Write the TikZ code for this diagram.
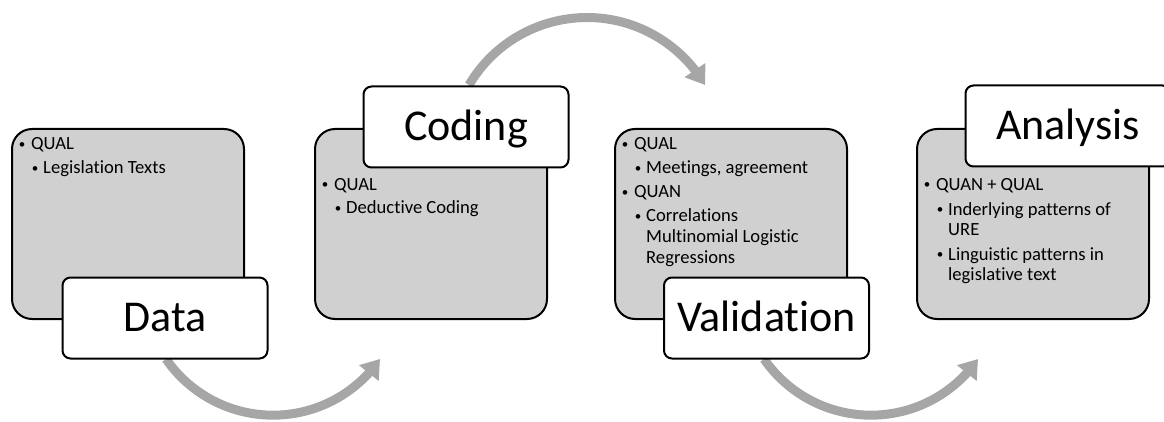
\documentclass[tikz,border=0pt]{standalone}
\usepackage{fontspec}
\setmainfont{Carlito}[Ligatures=NoCommon]
\usetikzlibrary{arrows.meta,bending}
\definecolor{boxgray}{RGB}{208,208,208}
\definecolor{arrowgray}{RGB}{166,166,166}
\tikzset{
  graybox/.style={draw=black, line width=2pt, fill=boxgray, rounded corners=20pt,
    anchor=north west, minimum width=232pt, minimum height=190pt, inner sep=0pt},
  labelbox/.style={draw=black, line width=2pt, fill=white, rounded corners=8pt,
    minimum width=205pt, minimum height=81pt, inner sep=0pt,
    font=\fontsize{44}{48}\selectfont, text height=27pt, text depth=0pt},
  flowarrow/.style={draw=arrowgray, line width=9pt, -{Triangle[width=24pt,length=18pt]}},
  bul/.style={anchor=base, inner sep=0pt, font=\fontsize{13}{14}\selectfont},
  txt/.style={anchor=base west, inner sep=0pt, font=\fontsize{18.6}{20.5}\selectfont},
}
\newcommand\bitem[5]{%
  \node[bul] (#1b) at (#2,#4) {\raisebox{1.6pt}{\textbullet}};
  \node[txt] (#1) at (#3,#4) {#5};}
\newcommand\citem[4]{\node[txt] (#1) at (#2,#3) {#4};}
\begin{document}
\begin{tikzpicture}[x=1pt,y=-1pt]
\useasboundingbox (0,0) rectangle (1164,422);
\clip (0,0) rectangle (1164,422);

% arrows (behind the boxes)
\coordinate (a1s) at (166,359);
\coordinate (a2s) at (469,85);
\coordinate (a3s) at (764,359);
\draw[flowarrow] (a1s) arc[start angle=145.4, end angle=34.6, radius=130];
\draw[flowarrow] (a2s) arc[start angle=210.5, end angle=329.5, radius=137];
\draw[flowarrow] (a3s) arc[start angle=145.4, end angle=34.6, radius=130];

% gray content boxes
\node[graybox] (g1) at (11,128) {};
\node[graybox] (g2) at (314,128) {};
\node[graybox] (g3) at (614,128) {};
\node[graybox] (g4) at (916,128) {};

% label boxes
\node[labelbox] (l1) at (165,318) {Data};
\node[labelbox] (l2) at (466,127) {Coding};
\node[labelbox] (l3) at (766.5,318) {Validation};
\node[labelbox] (l4) at (1068,126) {Analysis};

% Data texts
\bitem{d1}{22}{31}{150}{QUAL}
\bitem{d2}{35}{43}{174}{Legislation Texts}

% Coding texts
\bitem{c1}{325}{334}{190}{QUAL}
\bitem{c2}{338}{346}{214}{Deductive Coding}

% Validation texts
\bitem{v1}{625}{634}{150}{QUAL}
\bitem{v2}{638}{646}{174}{Meetings, agreement}
\bitem{v3}{625}{634}{198}{QUAN}
\bitem{v4}{638}{646}{222}{Correlations}
\citem{v5}{646}{242.5}{Multinomial Logistic}
\citem{v6}{646}{263}{Regressions}

% Analysis texts
\bitem{n1}{927}{936}{190.5}{QUAN + QUAL}
\bitem{n2}{940}{948}{215}{Inderlying patterns of}
\citem{n3}{948}{235.5}{URE}
\bitem{n4}{940}{948}{260}{Linguistic patterns in}
\citem{n5}{948}{280.5}{legislative text}
\end{tikzpicture}
\end{document}
